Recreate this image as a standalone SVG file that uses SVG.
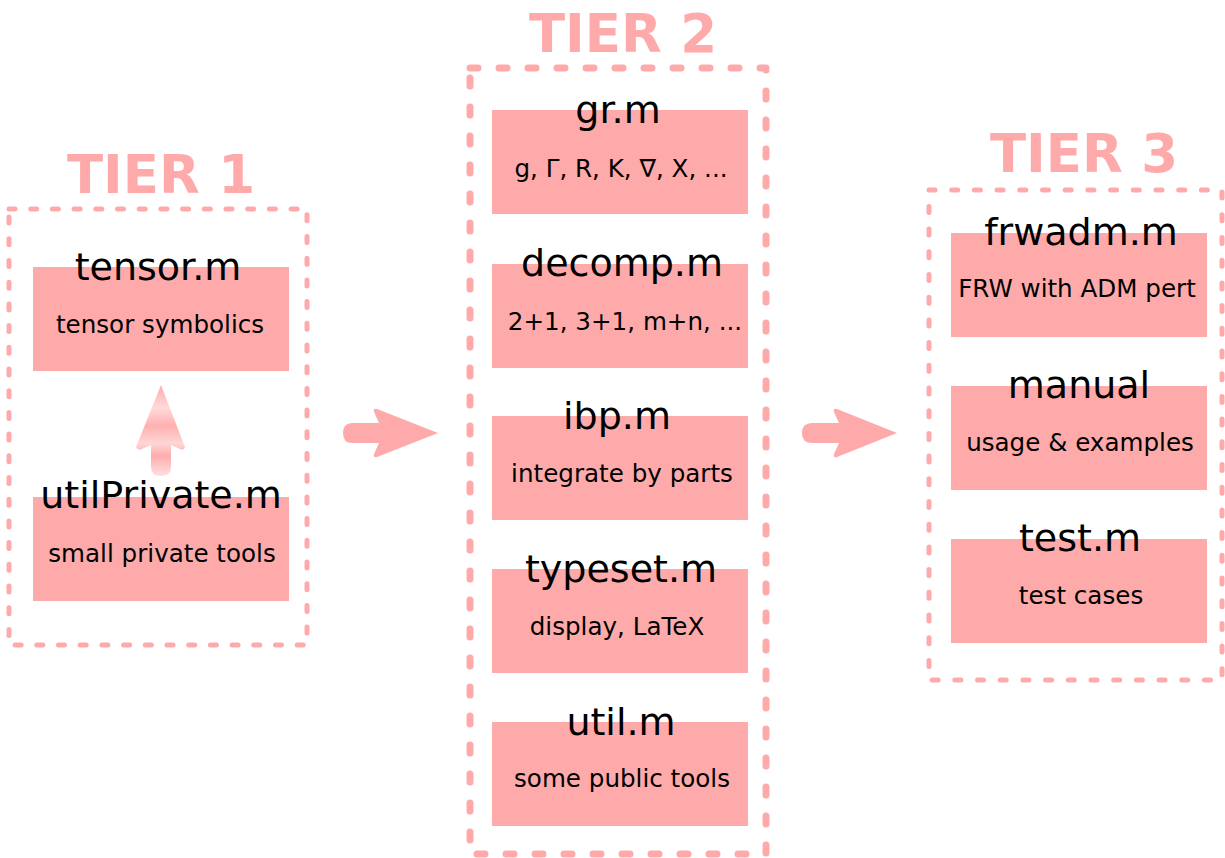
<svg xmlns="http://www.w3.org/2000/svg" width="1225" height="858" viewBox="0 0 1225 858">
<defs>
<style>
.tier{fill:none;stroke:#ffaaaa;stroke-linecap:round;stroke-linejoin:round}
.t1{stroke-width:5;stroke-dasharray:6 15.7}
.t2{stroke-width:7;stroke-dasharray:8 21}
.t3{stroke-width:5;stroke-dasharray:6 16.7}
.box{fill:#ffaaaa}
.title{font-family:"DejaVu Sans",sans-serif;font-size:38px;fill:#000;text-anchor:middle}
.sub{font-family:"DejaVu Sans",sans-serif;font-size:24.6px;fill:#000;text-anchor:middle}
.head{font-family:"DejaVu Sans",sans-serif;font-weight:bold;font-size:53px;fill:#ffaaaa;text-anchor:middle}
.big{fill:#ffaaaa}
</style>
<linearGradient id="upg" x1="0" y1="385" x2="0" y2="476" gradientUnits="userSpaceOnUse">
<stop offset="0" stop-color="#ffaaaa"/>
<stop offset="0.25" stop-color="#ffdada"/>
<stop offset="0.45" stop-color="#ffb0b0"/>
<stop offset="0.64" stop-color="#ffd6d6"/>
<stop offset="0.78" stop-color="#ffacac"/>
<stop offset="1" stop-color="#ffe0e0"/>
</linearGradient>
</defs>

<g id="tier1">
<text class="head" x="161" y="193">TIER 1</text>
<rect class="tier t1" x="9" y="209" width="298" height="436"/>
</g>
<g id="tier2">
<text class="head" x="623" y="52">TIER 2</text>
<rect class="tier t2" x="470" y="68" width="296" height="786"/>
</g>
<g id="tier3">
<text class="head" x="1084" y="172">TIER 3</text>
<rect class="tier t3" x="929" y="190" width="293" height="490"/>
</g>

<g id="tensor">
<rect class="box" x="33" y="267" width="256" height="104"/>
<text class="title" x="158" y="280">tensor.m</text>
<text class="sub" x="160" y="333">tensor symbolics</text>
</g>
<g id="utilPrivate">
<rect class="box" x="33" y="497" width="256" height="104"/>
<text class="title" x="161" y="508">utilPrivate.m</text>
<text class="sub" x="162" y="562">small private tools</text>
</g>

<g id="gr">
<rect class="box" x="492" y="110" width="256" height="104"/>
<text class="title" x="618" y="123">gr.m</text>
<text class="sub" x="621" y="177">g, Γ, R, K, ∇, X, ...</text>
</g>
<g id="decomp">
<rect class="box" x="492" y="264" width="256" height="104"/>
<text class="title" x="622" y="276">decomp.m</text>
<text class="sub" x="625" y="330">2+1, 3+1, m+n, ...</text>
</g>
<g id="ibp">
<rect class="box" x="492" y="416" width="256" height="104"/>
<text class="title" x="617" y="429">ibp.m</text>
<text class="sub" x="622" y="482">integrate by parts</text>
</g>
<g id="typeset">
<rect class="box" x="492" y="569" width="256" height="104"/>
<text class="title" x="621" y="582">typeset.m</text>
<text class="sub" x="617" y="635">display, LaTeX</text>
</g>
<g id="util">
<rect class="box" x="492" y="722" width="256" height="104"/>
<text class="title" x="621" y="735">util.m</text>
<text class="sub" x="622" y="787">some public tools</text>
</g>

<g id="frwadm">
<rect class="box" x="951" y="233" width="256" height="104"/>
<text class="title" x="1081" y="245">frwadm.m</text>
<text class="sub" x="1077" y="297">FRW with ADM pert</text>
</g>
<g id="manual">
<rect class="box" x="951" y="386" width="256" height="104"/>
<text class="title" x="1079" y="398">manual</text>
<text class="sub" x="1080" y="451">usage &amp; examples</text>
</g>
<g id="test">
<rect class="box" x="951" y="539" width="256" height="104"/>
<text class="title" x="1080" y="551">test.m</text>
<text class="sub" x="1081" y="604">test cases</text>
</g>

<g id="connectors">
<path fill="url(#upg)" d="M161,385 L185,447 Q184,451 180,449 L171,445 L171,467 Q171,476 161,476 Q151,476 151,467 L151,445 L142,449 Q138,451 136,447 Z"/>
<path class="big" d="M352,423 L379,423 L374,412 Q373,408 377,409 L438,433 L377,457 Q373,458 374,454 L379,443 L352,443 Q343,443 343,433 Q343,423 352,423 Z"/>
<path class="big" d="M812,423 L839,423 L834,412 Q833,408 837,409 L897,433 L837,457 Q833,458 834,454 L839,443 L812,443 Q802,443 802,433 Q802,423 812,423 Z"/>
</g>
</svg>
